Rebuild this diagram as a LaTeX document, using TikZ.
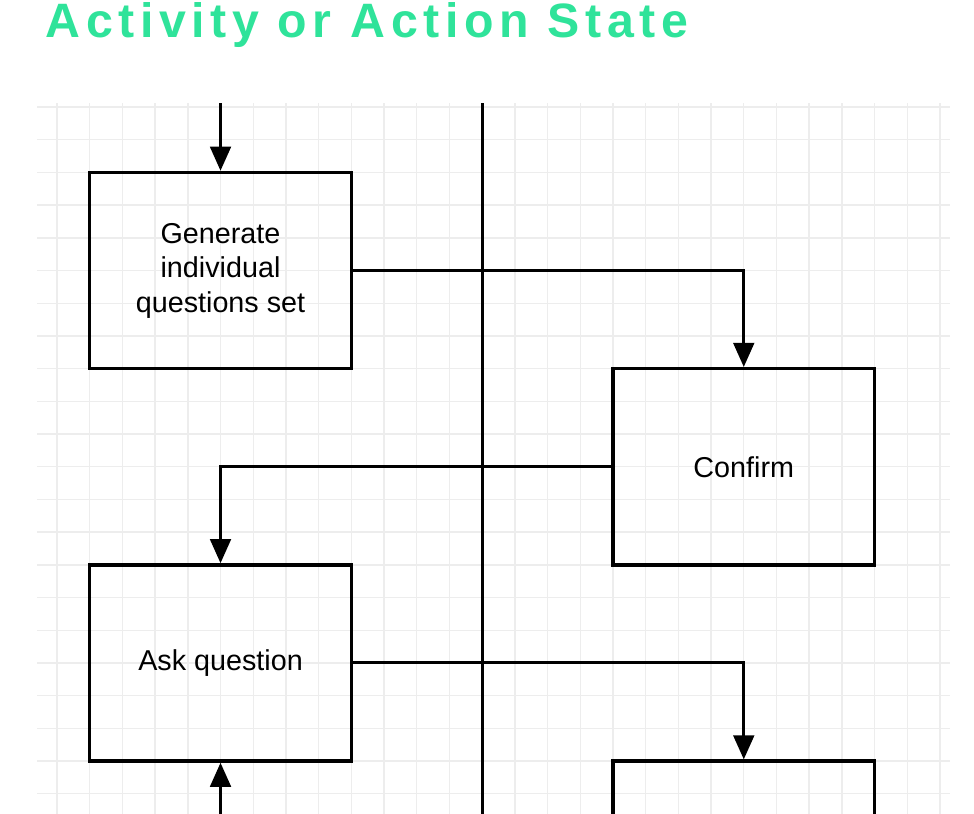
\documentclass[tikz,border=0pt]{standalone}
\usepackage{fontspec}
\setmainfont{Liberation Sans}
\newfontfamily\titlefont{Liberation Sans}[LetterSpace=11.5]
\usepackage{tikz}
\usetikzlibrary{arrows.meta,positioning}
\definecolor{titlegreen}{RGB}{47,227,154}
\definecolor{gridgray}{RGB}{237,237,237}

\begin{document}
\begin{tikzpicture}[
    gridline/.style={draw=gridgray,line width=1.2pt},
    actbox/.style={draw,line width=2.9pt,minimum width=8cm,minimum height=6cm,align=center,font=\fontsize{25}{30}\selectfont},
    arr/.style={line width=2.6pt,-{Triangle[length=21pt,width=18pt]}},
    lane/.style={line width=2.6pt}]
    \useasboundingbox[fill=white] (-1.743,3.272) rectangle (28.04,-21.59);
    % background grid
    \foreach \y in {0,...,21}
        \draw[gridline] (-0.61,-\y) -- (27.31,-\y);
    \foreach \x in {0,...,27}
        \draw[gridline] (\x,0.12) -- (\x,-21.7);
    \node[anchor=base west,inner sep=0pt,text=titlegreen,font=\titlefont\bfseries\fontsize{42}{48}\selectfont] (title) at (-0.35,2.14) {Activity or Action State};
    % lane divider
    \coordinate (lanetop) at (13,0.12);
    \coordinate (lanebot) at (13,-21.7);
    \draw[lane] (lanetop) -- (lanebot);
    % activities
    \node[actbox] (gen) at (5,-5) {Generate\\individual\\questions set};
    \node[actbox] (conf) at (21,-11) {Confirm};
    \node[actbox] (ask) at (5,-17) {Ask question};
    \node[actbox] (next) at (21,-23) {};
    % flow
    \coordinate (start) at (5,0.12);
    \coordinate (back) at (5,-21.7);
    \draw[arr] (start) -- (gen.north);
    \draw[arr] (gen.east) -| (conf.north);
    \draw[arr] (conf.west) -| (ask.north);
    \draw[arr] (ask.east) -| (next.north);
    \draw[arr] (back) -- (ask.south);
\end{tikzpicture}
\end{document}
